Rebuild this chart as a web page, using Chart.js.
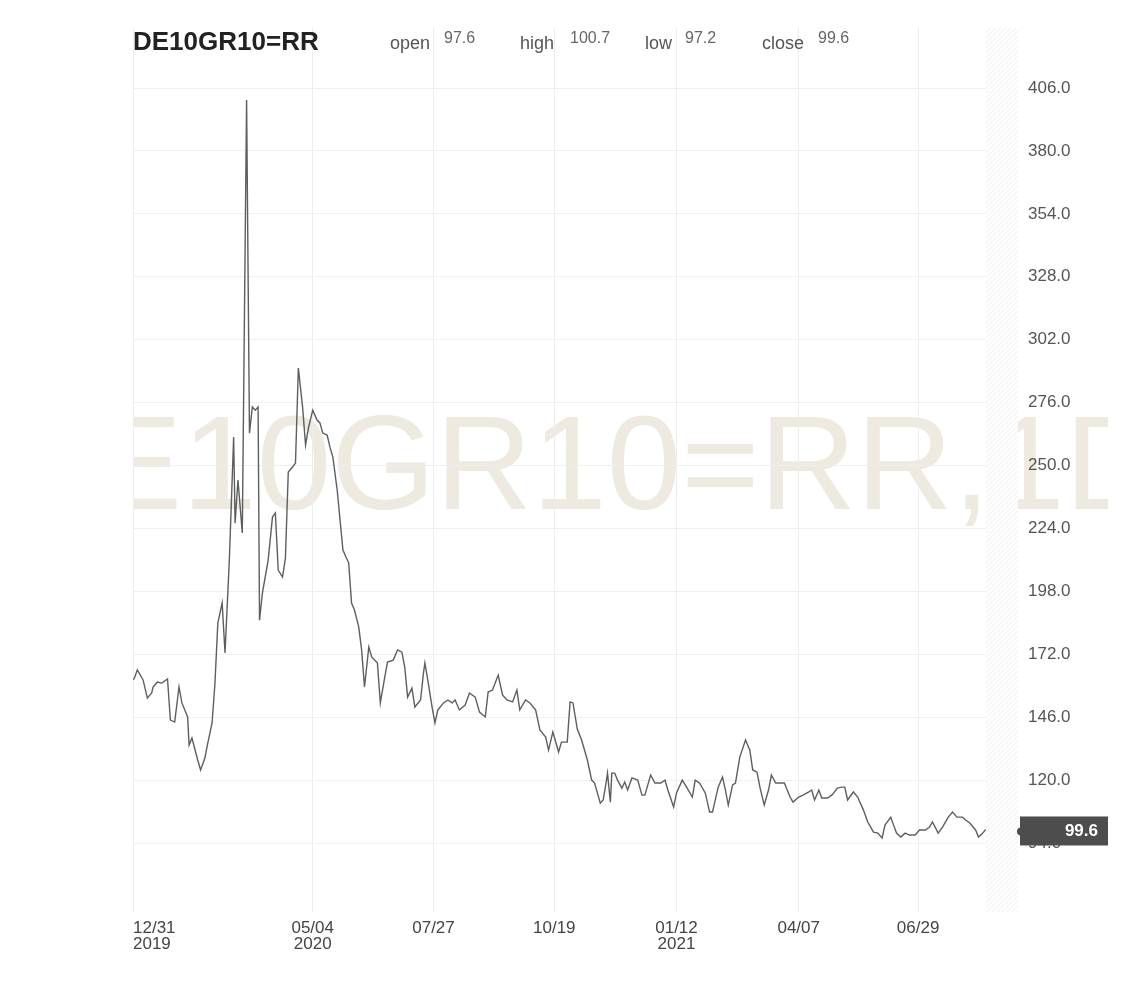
<!DOCTYPE html>
<html>
<head>
<meta charset="utf-8">
<script src="https://cdn.jsdelivr.net/npm/chart.js@4.4.1/dist/chart.umd.min.js"></script>
<style>
  html, body { margin: 0; padding: 0; background: #fff; }
  #wrap { width: 1126px; height: 994px; }
</style>
</head>
<body>
<div id="wrap"><canvas id="bond-chart" width="1126" height="994"></canvas></div>
<script>
// days since 12/31/2019 and spread values
const days = [0,1,3,7,10,13,14,17,20,24,26,29,32,34,38,39,41,45,47,50,52,55,57,59,62,64,67,70,71,73,76,79,81,83,85,87,88,90,94,97,99,101,104,106,108,111,113,115,118,120,122,125,128,130,132,135,137,139,142,144,146,150,152,154,157,159,161,164,166,170,172,175,177,181,184,187,189,191,194,196,200,202,203,205,208,210,212,216,219,222,224,227,231,234,238,241,245,247,250,254,257,260,264,267,269,273,276,280,283,287,289,292,296,298,302,304,306,309,312,316,319,321,325,327,329,330,332,333,335,337,340,342,344,347,351,354,356,360,363,367,370,372,376,378,382,385,389,391,394,398,401,403,407,410,412,414,417,419,422,426,429,431,434,436,439,442,444,447,450,453,457,459,463,466,470,472,474,477,479,483,486,490,493,495,497,501,504,508,511,515,518,521,523,527,529,531,534,537,540,544,547,551,554,556,560,563,567,570,573,577,579,582,586,588,591,593];
const prices = [161.4,162.2,165.5,161.4,153.9,156.0,158.5,160.5,160.1,161.8,144.8,144.0,158.5,151.9,146.1,134.5,137.4,128.3,124.2,129.1,135.3,143.6,160.1,184.9,193.2,172.5,210.9,261.8,226.2,244.0,222.1,401.0,263.4,274.2,272.9,274.2,186.1,197.3,210.9,228.7,230.4,206.8,203.9,211.8,247.3,249.4,251.0,290.3,273.8,258.5,265.5,272.9,268.8,267.6,263.4,262.6,257.6,253.5,239.9,227.5,215.1,209.7,193.2,190.3,183.3,173.8,158.5,175.0,170.9,168.4,151.9,162.2,168.8,169.6,173.8,172.9,166.7,154.3,158.0,150.2,153.1,164.2,168.4,161.4,150.2,143.6,149.0,151.9,153.1,151.9,153.1,149.0,151.0,156.0,154.3,148.1,146.1,156.4,157.2,163.4,155.2,153.1,152.3,157.2,149.0,153.1,151.9,149.0,140.7,137.8,132.4,139.9,131.6,135.7,135.7,152.3,151.9,141.1,136.6,128.3,120.0,118.8,110.5,111.8,118.8,122.9,110.9,122.9,122.9,120.0,116.7,119.2,115.9,120.9,120.0,113.8,113.8,122.1,118.8,118.8,120.0,115.9,108.9,114.7,120.0,117.1,113.0,120.0,118.8,114.7,106.8,106.8,117.1,121.3,115.9,109.7,118.0,118.8,129.5,136.6,132.4,124.2,123.3,117.1,109.7,115.9,122.1,118.8,118.8,118.8,113.0,110.9,113.0,113.8,115.1,115.9,111.8,115.9,112.6,112.6,113.8,116.7,117.1,117.1,111.8,115.1,113.0,107.6,102.7,98.5,98.1,96.1,101.4,104.7,101.4,98.1,96.5,98.1,97.3,97.3,99.4,99.4,100.6,102.7,98.1,100.6,104.7,106.8,104.7,104.7,103.5,102.3,99.4,96.5,98.1,99.6];

const tickDays = [0, 125, 209, 293, 378, 463, 546];
const tickLabels = [['12/31', '2019'], ['05/04', '2020'], '07/27', '10/19', ['01/12', '2021'], '04/07', '06/29'];
const yTicks = [94, 120, 146, 172, 198, 224, 250, 276, 302, 328, 354, 380, 406];

const symbol = 'DE10GR10=RR';
const ohlcNames = ['open', 'high', 'low', 'close'];
const ohlcValues = ['97.6', '100.7', '97.2', '99.6'];

const X_MAX = 615.5;
const FONT = '"Liberation Sans", Arial, sans-serif';

const backdrop = {
  id: 'backdrop',
  beforeDraw(chart) {
    const ctx = chart.ctx;
    ctx.save();
    ctx.beginPath();
    ctx.rect(133, 0, 975, 994);
    ctx.clip();
    ctx.font = '134px ' + FONT;
    ctx.fillStyle = '#eeeadf';
    ctx.textBaseline = 'alphabetic';
    ctx.fillText(symbol + ',1D', -4, 509);
    ctx.restore();
  },
  beforeDatasetsDraw(chart) {
    // hatched strip after the last bar
    const ctx = chart.ctx;
    const area = chart.chartArea;
    const x0 = chart.scales.x.getPixelForValue(days[days.length - 1]);
    const w = area.right - x0;
    ctx.save();
    ctx.beginPath();
    ctx.rect(x0, area.top, w, area.bottom - area.top);
    ctx.clip();
    ctx.fillStyle = '#fff';
    ctx.fillRect(x0, area.top, w, area.bottom - area.top);
    ctx.strokeStyle = '#ebebeb';
    ctx.lineWidth = 1;
    ctx.beginPath();
    for (let k = area.top - w; k < area.bottom + w; k += 5) {
      ctx.moveTo(x0, k + w);
      ctx.lineTo(area.right, k);
    }
    ctx.stroke();
    ctx.restore();
  },
  afterDraw(chart) {
    const ctx = chart.ctx;
    ctx.save();
    ctx.textBaseline = 'alphabetic';
    ctx.textAlign = 'left';
    ctx.fillStyle = '#222';
    ctx.font = 'bold 26px ' + FONT;
    ctx.fillText(symbol, 133, 50);

    const nameX = [390, 520, 645, 762];
    const valX = [444, 570, 685, 818];
    ohlcNames.forEach((n, i) => {
      ctx.font = '18px ' + FONT;
      ctx.fillStyle = '#555';
      ctx.fillText(n, nameX[i], 49);
      ctx.font = '16px ' + FONT;
      ctx.fillStyle = '#666';
      ctx.fillText(ohlcValues[i], valX[i], 43);
    });

    // last value marker on the price axis
    const last = prices[prices.length - 1];
    const y = chart.scales.y.getPixelForValue(last);
    ctx.fillStyle = '#4d4d4d';
    ctx.fillRect(1020, y - 13, 88, 29);
    ctx.beginPath();
    ctx.arc(1021, y + 2, 4, 0, Math.PI * 2);
    ctx.fill();
    ctx.fillStyle = '#fff';
    ctx.font = 'bold 17px ' + FONT;
    ctx.textAlign = 'right';
    ctx.textBaseline = 'middle';
    ctx.fillText(last.toFixed(1), 1098, y + 2);
    ctx.restore();
  }
};

const canvas = document.getElementById('bond-chart');
new Chart(canvas, {
  type: 'line',
  data: {
    datasets: [{
      data: days.map((d, i) => ({ x: d, y: prices[i] })),
      borderColor: '#5e5e5e',
      borderWidth: 1.4,
      pointRadius: 0,
      tension: 0,
      fill: false
    }]
  },
  options: {
    responsive: false,
    animation: false,
    layout: { padding: { left: 133, top: 28, right: 0, bottom: 0 } },
    plugins: { legend: { display: false }, tooltip: { enabled: false } },
    scales: {
      x: {
        type: 'linear',
        min: 0,
        max: X_MAX,
        afterBuildTicks: (scale) => {
          scale.ticks = tickDays.map(v => ({ value: v })).concat([{ value: X_MAX }]);
        },
        afterFit: (scale) => { scale.height = 82; },
        border: { display: false },
        grid: {
          drawTicks: false,
          color: (c) => (c.tick && c.tick.value > 600 ? 'rgba(0,0,0,0)' : '#ededed')
        },
        ticks: {
          autoSkip: false,
          maxRotation: 0,
          align: 'inner',
          padding: 9,
          color: '#444',
          font: { family: FONT, size: 17, lineHeight: 0.9 },
          callback: (v, i) => (i < tickLabels.length ? tickLabels[i] : '')
        }
      },
      y: {
        type: 'linear',
        position: 'right',
        min: 65.5,
        max: 430.8,
        afterBuildTicks: (scale) => {
          scale.ticks = yTicks.map(v => ({ value: v }));
        },
        afterFit: (scale) => { scale.width = 108; },
        border: { display: false },
        grid: { drawTicks: false, color: '#efefef' },
        ticks: {
          padding: 10,
          color: '#555',
          font: { family: FONT, size: 17 },
          callback: (v) => Number(v).toFixed(1)
        }
      }
    }
  },
  plugins: [backdrop]
});
</script>
</body>
</html>
